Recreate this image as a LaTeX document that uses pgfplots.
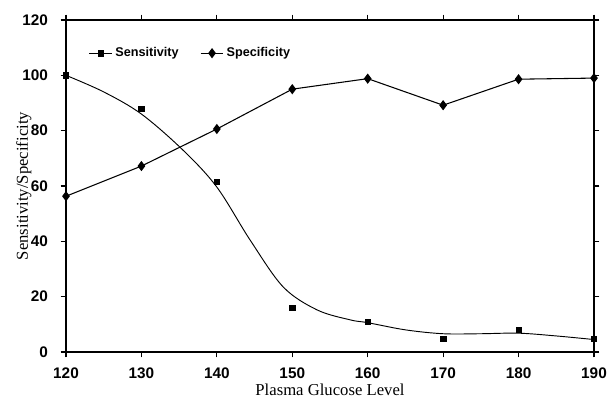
\documentclass[border=0pt]{standalone}
\usepackage{fontspec}
\setmainfont{Liberation Serif}
\setsansfont{Liberation Sans}
\usepackage{pgfplots}
\pgfplotsset{compat=1.18}
\begin{document}
\begin{tikzpicture}
\begin{axis}[
  scale only axis,
  width=396pt, height=249pt,
  xmin=120, xmax=190, ymin=0, ymax=120,
  xtick={120,130,...,190}, ytick={0,20,...,120},
  tick align=outside,
  major tick length=4pt,
  tick style={black, line width=0.8pt},
  axis line style={line width=0.9pt},
  /pgf/number format/assume math mode=true,
  ticklabel style={font=\sffamily\bfseries\fontsize{11.5}{13}\selectfont},
  yticklabel style={xshift=-6pt},
  xticklabel style={yshift=-4.5pt},
  xlabel={Plasma Glucose Level},
  ylabel={Sensitivity/Specificity},
  label style={font=\fontsize{12.5}{14}\selectfont},
  xlabel style={at={(axis description cs:0.5,-0.114)}, anchor=center},
  ylabel style={at={(axis description cs:-0.08,0.5)}, anchor=center, rotate=0},
  legend style={draw=none, fill=none, at={(0.035,0.9)}, anchor=west,
    font=\sffamily\bfseries\fontsize{9.5}{11}\selectfont, legend columns=2,
    /tikz/every even column/.append style={column sep=14pt}},
  legend image code/.code={
    \draw[#1, line width=0.9pt] (0cm,0cm) -- (0.6cm,0cm);
    \draw[#1, mark repeat=1, only marks] plot coordinates {(0.3cm,0cm)};
  },
  clip=false,
]
% Sensitivity fitted curve
\addplot[black, line width=0.7pt, smooth, tension=0.55, forget plot] coordinates {
 (120,100) (125,94) (130,86) (135.5,73) (140,59.6) (144.4,40.5) (148.8,23.5)
 (153.3,15.2) (157.7,11.6) (160,10.6) (165,8) (170,6.6) (175,6.6) (180,6.8) (185,5.8) (190,4.5)
};
% Sensitivity points
\addplot[black, only marks, mark=square*, mark size=2pt, mark options={fill=black}] coordinates {
 (120,100) (130,88) (140,61.5) (150,16) (160,11) (170,4.8) (180,8) (190,4.7)
};
\addlegendentry{Sensitivity}
% Specificity
\addplot[black, line width=0.8pt, mark=diamond*, mark size=3.2pt, mark options={fill=black}] coordinates {
 (120,56.3) (130,67.2) (140,80.6) (150,95) (160,98.8) (170,89.2) (180,98.6) (190,99)
};
\addlegendentry{Specificity}
\end{axis}
\pgfresetboundingbox
\path ([xshift=-49.5pt,yshift=-39.75pt]current axis.south west) rectangle ([xshift=11.25pt,yshift=15pt]current axis.north east);
\end{tikzpicture}
\end{document}
